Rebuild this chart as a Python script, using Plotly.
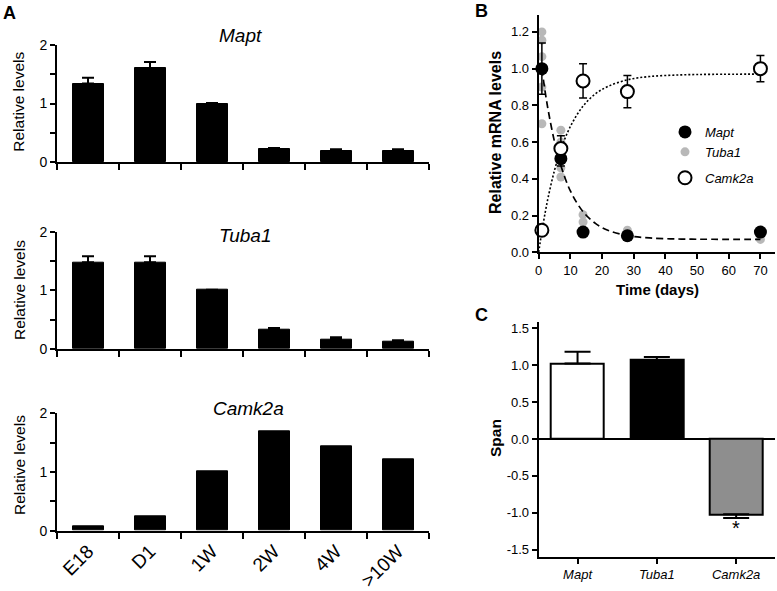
import plotly.graph_objects as go

W, H = 777, 591
FONT = "Liberation Sans, Arial, Helvetica, sans-serif"

# ---------------- data ----------------
stages = ["E18", "D1", "1W", "2W", "4W", ">10W"]
mapt_levels = [1.34, 1.60, 0.99, 0.23, 0.19, 0.19]
mapt_err = [0.10, 0.11, 0.02, 0.01, 0.03, 0.03]
tuba1_levels = [1.48, 1.48, 1.01, 0.33, 0.165, 0.12]
tuba1_err = [0.10, 0.10, 0.0, 0.03, 0.035, 0.03]
camk2a_levels = [0.08, 0.245, 1.01, 1.69, 1.43, 1.22]

days = [1, 7, 14, 28, 70]
mapt_time = [1.0, 0.51, 0.11, 0.09, 0.11]
mapt_time_err = [0.14, 0.04, 0.01, 0.01, 0.01]
camk2a_time = [0.12, 0.565, 0.933, 0.875, 1.0]
camk2a_time_err = [0.01, 0.07, 0.093, 0.088, 0.072]
tuba1_days = [1, 1, 1, 1, 1, 7, 7, 7, 7, 14, 14, 14, 28, 28, 70, 70]
tuba1_time = [1.2, 1.155, 1.065, 0.9, 0.7, 0.665, 0.6, 0.46, 0.41, 0.205, 0.165, 0.12, 0.12, 0.10, 0.10, 0.07]

decay_days = [1, 2, 3, 5, 7, 10, 14, 18, 22, 28, 35, 45, 55, 70]
decay_fit = [1.0, 0.878, 0.773, 0.601, 0.472, 0.334, 0.221, 0.156, 0.119, 0.091, 0.078, 0.072, 0.071, 0.070]
rise_days = [0, 0.5, 1, 2, 3, 5, 7, 10, 14, 18, 22, 28, 35, 45, 55, 70]
rise_fit = [0, 0.058, 0.112, 0.212, 0.30, 0.447, 0.56, 0.685, 0.796, 0.864, 0.904, 0.939, 0.957, 0.966, 0.969, 0.97]

genes = ["Mapt", "Tuba1", "Camk2a"]
span = [1.02, 1.07, -1.02]
span_err_up = [0.16, 0.04, 0.0]
span_err_down = [0.0, 0.0, 0.05]
span_colors = ["white", "black", "#8e8e8e"]


def px(x):
    return x / W


def py(y):
    return 1 - y / H


def label(x, y, text, size, angle=0):
    return dict(x=px(x), y=py(y), xref="paper", yref="paper", text=text,
                textangle=angle, showarrow=False, xanchor="center", yanchor="middle",
                font=dict(size=size, family=FONT, color="black"))


fig = go.Figure()

# ---------------- panel A ----------------
panelA = [
    ("Mapt", mapt_levels, mapt_err, (45.0, 162.0), (240, 36), 101.7),
    ("Tuba1", tuba1_levels, tuba1_err, (231.7, 349.0), (245, 235), 290),
    ("Camk2a", camk2a_levels, None, (413.3, 530.7), (248, 408), 465),
]
annotations = []
for i, (name, vals, err, (ytop, ybot), (tx, ty), ycen) in enumerate(panelA):
    k = "" if i == 0 else str(i + 1)
    ed = dict(visible=False)
    if err is not None:
        ed = dict(type="data", array=err, arrayminus=[0] * len(err), symmetric=False,
                  color="black", thickness=2, width=6)
    fig.add_trace(go.Bar(x=stages, y=vals, width=0.5,
                         marker=dict(color="black", line=dict(color="black", width=1)),
                         error_y=ed, xaxis="x" + k, yaxis="y" + k, showlegend=False))
    fig.update_layout(**{
        "xaxis" + k: dict(domain=[px(57), px(429)], anchor="y" + k, type="category",
                          automargin=False,
                          showline=True, linewidth=2, linecolor="black",
                          ticks="outside", tickson="boundaries", ticklen=6, tickwidth=2,
                          tickcolor="black", showgrid=False, zeroline=False,
                          showticklabels=(i == 2), tickangle=-45,
                          tickfont=dict(size=19, family=FONT, color="black")),
        "yaxis" + k: dict(domain=[py(ybot), py(ytop)], anchor="x" + k, range=[0, 2],
                          automargin=False,
                          tickvals=[0, 0.5, 1, 1.5, 2], ticktext=["0", "", "1", "", "2"],
                          ticks="outside", ticklen=5, tickwidth=2, tickcolor="black",
                          showline=True, linewidth=2, linecolor="black",
                          showgrid=False, zeroline=False,
                          tickfont=dict(size=14, family=FONT, color="black")),
    })
    annotations.append(label(tx, ty, "<i>%s</i>" % name, 19))
    annotations.append(label(19, ycen, "Relative levels", 15.5, -90))

# ---------------- panel B ----------------
fig.add_trace(go.Scatter(x=tuba1_days, y=tuba1_time, mode="markers", name="<i>Tuba1</i>",
                         marker=dict(color="#b8b8b8", size=9), xaxis="x4", yaxis="y4",
                         legendrank=2, legendgroup="a", cliponaxis=False))
fig.add_trace(go.Scatter(x=decay_days, y=decay_fit, mode="lines", line_shape="spline",
                         line=dict(color="black", width=1.7, dash="7px,4px"),
                         xaxis="x4", yaxis="y4", showlegend=False))
fig.add_trace(go.Scatter(x=rise_days, y=rise_fit, mode="lines", line_shape="spline",
                         line=dict(color="black", width=1.6, dash="2px,2px"),
                         xaxis="x4", yaxis="y4", showlegend=False))
fig.add_trace(go.Scatter(x=days, y=mapt_time, mode="markers", name="<i>Mapt</i>",
                         marker=dict(color="black", size=13),
                         error_y=dict(type="data", array=mapt_time_err, color="black",
                                      thickness=1.5, width=4),
                         xaxis="x4", yaxis="y4", legendrank=1, legendgroup="a",
                         cliponaxis=False))
fig.add_trace(go.Scatter(x=days, y=camk2a_time, mode="markers", name="<i>Camk2a</i>",
                         marker=dict(color="white", size=13, line=dict(color="black", width=2)),
                         error_y=dict(type="data", array=camk2a_time_err, color="black",
                                      thickness=1.5, width=4),
                         xaxis="x4", yaxis="y4", legendrank=3, legendgroup="b",
                         cliponaxis=False))

fig.update_layout(
    xaxis4=dict(domain=[px(538.7), px(775)], anchor="y4", range=[0, 74.6],
                automargin=False,
                tickvals=[0, 10, 20, 30, 40, 50, 60, 70],
                ticks="outside", ticklen=5, tickwidth=1.5, tickcolor="black",
                showline=True, linewidth=2, linecolor="black",
                showgrid=False, zeroline=False,
                tickfont=dict(size=13, family=FONT, color="black")),
    yaxis4=dict(domain=[py(252.3), py(15)], anchor="x4", range=[0, 1.292],
                automargin=False,
                tickvals=[0, 0.2, 0.4, 0.6, 0.8, 1.0, 1.2], tickformat=".1f",
                ticks="outside", ticklen=5, tickwidth=1.5, tickcolor="black",
                showline=True, linewidth=2, linecolor="black",
                showgrid=False, zeroline=False,
                tickfont=dict(size=13, family=FONT, color="black")),
)
annotations.append(label(495, 132, "<b>Relative mRNA levels</b>", 16, -90))
annotations.append(label(657, 289, "<b>Time (days)</b>", 15))

# ---------------- panel C ----------------
fig.add_trace(go.Bar(x=genes, y=span, width=0.67,
                     marker=dict(color=span_colors, line=dict(color="black", width=2)),
                     error_y=dict(type="data", array=span_err_up, arrayminus=span_err_down,
                                  symmetric=False, color="black", thickness=2, width=13),
                     xaxis="x5", yaxis="y5", showlegend=False))
fig.update_layout(
    xaxis5=dict(domain=[px(538.7), px(775)], anchor="y5", type="category",
                automargin=False,
                range=[-0.49, 2.49], tickvals=genes,
                ticktext=["<i>%s</i>" % g for g in genes],
                ticks="outside", ticklen=5, tickwidth=1.5, tickcolor="black",
                showline=True, linewidth=2, linecolor="black",
                showgrid=False, zeroline=False,
                tickfont=dict(size=13, family=FONT, color="black")),
    yaxis5=dict(domain=[py(556.7), py(321.7)], anchor="x5", range=[-1.593, 1.587],
                automargin=False,
                tickvals=[-1.5, -1.0, -0.5, 0, 0.5, 1.0, 1.5],
                ticktext=["-1.5", "-1.0", "-0.5", "0.0", "0.5", "1.0", "1.5"],
                ticks="outside", ticklen=5, tickwidth=1.5, tickcolor="black",
                showline=True, linewidth=2, linecolor="black",
                showgrid=False, zeroline=True, zerolinewidth=2, zerolinecolor="black",
                tickfont=dict(size=13, family=FONT, color="black")),
)
annotations.append(label(495, 438, "<b>Span</b>", 15.5, -90))
annotations.append(dict(x="Camk2a", y=-1.21, xref="x5", yref="y5", text="*",
                        showarrow=False, xanchor="center", yanchor="middle",
                        font=dict(size=20, family=FONT, color="black")))

# panel letters
for letter, lx, ly in [("A", 9, 12.5), ("B", 482, 11), ("C", 482, 315)]:
    annotations.append(label(lx, ly, "<b>%s</b>" % letter, 18))

fig.update_layout(
    template="none",
    width=W, height=H, autosize=False,
    margin=dict(l=0, r=0, t=0, b=0, pad=0, autoexpand=False),
    paper_bgcolor="white", plot_bgcolor="white",
    font=dict(family=FONT, color="black"),
    bargap=0,
    annotations=annotations,
    legend=dict(x=px(665), y=py(117), xanchor="left", yanchor="top",
                bgcolor="rgba(0,0,0,0)", tracegroupgap=6,
                font=dict(size=13, family=FONT, color="black")),
    showlegend=True,
)

fig.write_html("out.html", config={"displayModeBar": False},
               post_script="document.body.style.margin='0px';")
